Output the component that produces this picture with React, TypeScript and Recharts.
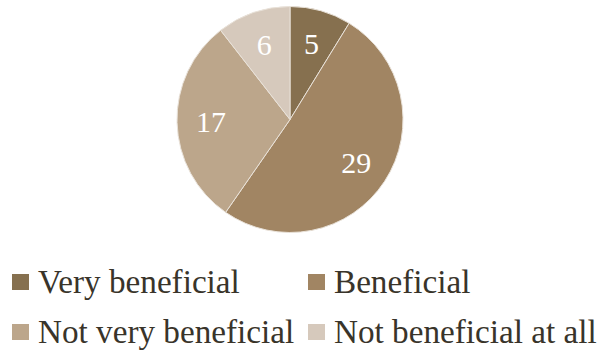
import React from "react";
import { PieChart, Pie, Cell, Legend } from "recharts";

document.body.style.margin = "0";

const categories = ["Very beneficial", "Beneficial", "Not very beneficial", "Not beneficial at all"];
const counts = [5, 29, 17, 6];
const colors = ["#86704F", "#A18563", "#BCA68B", "#D6C9BC"];

const data = categories.map((name, i) => ({ name, value: counts[i] }));

const RAD = Math.PI / 180;
const FONT = "'Liberation Serif', 'Times New Roman', serif";

const renderLabel = (props: any) => {
  const { cx, cy, midAngle, value } = props;
  const r = 79;
  const x = cx + r * Math.cos(-midAngle * RAD);
  const y = cy + r * Math.sin(-midAngle * RAD);
  return (
    <text
      x={x}
      y={y}
      fill="#ffffff"
      textAnchor="middle"
      dominantBaseline="central"
      fontSize={30}
      fontFamily={FONT}
    >
      {value}
    </text>
  );
};

const renderLegend = () => (
  <div
    style={{
      display: "grid",
      gridTemplateColumns: "296px 296px",
      rowGap: 18,
      marginLeft: 12,
      fontFamily: FONT,
      fontSize: 33.2,
      color: "#39342A",
    }}
  >
    {categories.map((name, i) => (
      <div key={name} style={{ display: "flex", alignItems: "center", height: 32 }}>
        <span
          style={{
            display: "inline-block",
            width: 16.5,
            height: 16.5,
            background: colors[i],
            marginRight: 9.5,
          }}
        />
        <span style={{ lineHeight: "32px", whiteSpace: "nowrap" }}>{name}</span>
      </div>
    ))}
  </div>
);

export default function App() {
  return (
    <PieChart width={597} height={351} margin={{ top: 0, right: 0, bottom: 0, left: 0 }}>
      <Pie
        data={data}
        dataKey="value"
        nameKey="name"
        cx={290}
        cy={119.5}
        outerRadius={113}
        startAngle={90}
        endAngle={-270}
        stroke="#E9E2D9"
        strokeWidth={1}
        label={renderLabel}
        labelLine={false}
        isAnimationActive={false}
      >
        {data.map((d, i) => (
          <Cell key={d.name} fill={colors[i]} />
        ))}
      </Pie>
      <Legend
        content={renderLegend}
        wrapperStyle={{ position: "absolute", left: 0, top: 266, width: 597 }}
      />
    </PieChart>
  );
}
